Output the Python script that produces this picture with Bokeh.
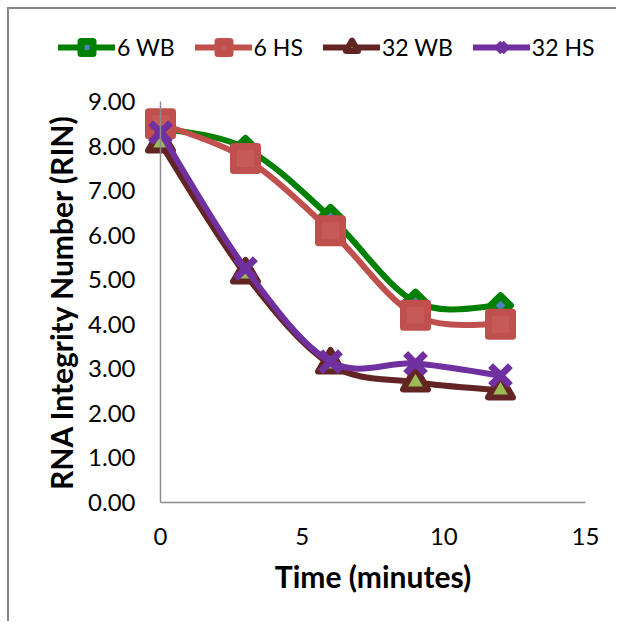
import numpy as np
from bokeh.plotting import figure
from bokeh.models import Legend, LegendItem, FixedTicker, PrintfTickFormatter, Range1d
from bokeh.embed import file_html
from bokeh.resources import INLINE

# ---- data ----
time_min = [0, 3, 6, 9, 12]
series_names = ["6 WB", "6 HS", "32 WB", "32 HS"]
wb6 = [8.40, 7.95, 6.40, 4.50, 4.42]
hs6 = [8.50, 7.72, 6.10, 4.20, 4.00]
wb32 = [8.06, 5.12, 3.10, 2.70, 2.52]
hs32 = [8.30, 5.25, 3.16, 3.12, 2.85]
x_ticks = [0, 5, 10, 15]
y_ticks = [0, 1, 2, 3, 4, 5, 6, 7, 8, 9]
x_lo, x_hi = 0, 15
y_lo, y_hi = 0, 9

FONT = "Lato"

# ---- layout geometry (pixels, relative to the figure's content box) ----
W, H = 609, 614
B = 1                                   # frame border on every side
ORIGIN_X, ORIGIN_Y = 151, 493           # where (0, 0) sits
RIGHT_X, TOP_Y = 576, 92                # where x=15 and y=9 sit
px_per_x = (RIGHT_X - ORIGIN_X) / (x_hi - x_lo)
px_per_y = (ORIGIN_Y - TOP_Y) / (y_hi - y_lo)
x_start = x_lo - (ORIGIN_X - B) / px_per_x
x_end = x_hi + ((W - B) - RIGHT_X) / px_per_x
y_start = y_lo - ((H - B) - ORIGIN_Y) / px_per_y
y_end = y_hi + (TOP_Y - B) / px_per_y

p = figure(width=W, height=H, x_range=Range1d(x_start, x_end), y_range=Range1d(y_start, y_end),
           output_backend="svg", toolbar_location=None,
           min_border_left=B, min_border_right=B, min_border_top=B, min_border_bottom=B)
p.styles = {"border-left": "2px solid #878787", "border-top": "2px solid #878787",
            "margin-left": "7px", "margin-top": "7px"}
p.outline_line_color = None
p.xgrid.visible = False
p.ygrid.visible = False
p.background_fill_color = "white"
p.border_fill_color = "white"

for ax in (p.xaxis[0], p.yaxis[0]):
    ax.axis_line_color = "#8C8C8C"
    ax.axis_line_width = 1.5
    ax.major_tick_line_color = None
    ax.minor_tick_line_color = None
    ax.major_label_text_font = FONT
    ax.major_label_text_font_size = "24px"
    ax.major_label_text_color = "black"
    ax.axis_label_text_font = FONT
    ax.axis_label_text_font_style = "bold"
    ax.axis_label_text_font_size = "30px"
    ax.axis_label_text_color = "black"

p.yaxis.fixed_location = x_lo
p.xaxis.fixed_location = y_lo
p.xaxis.bounds = (x_lo, x_hi)
p.yaxis.bounds = (y_lo, y_hi)
p.xaxis.ticker = FixedTicker(ticks=x_ticks)
p.yaxis.ticker = FixedTicker(ticks=y_ticks)
p.yaxis.formatter = PrintfTickFormatter(format="%.2f")
p.xaxis.axis_label = "Time (minutes)"
p.yaxis.axis_label = "RNA Integrity Number (RIN)"
p.xaxis.major_label_standoff = 19
p.yaxis.major_label_standoff = 19
p.xaxis.axis_label_standoff = 10
p.yaxis.axis_label_standoff = 6


def smooth_segments(xs, ys):
    """Excel-like smoothed line: cubic Bezier segments (Catmull-Rom control points)."""
    xs = np.asarray(xs, float)
    ys = np.asarray(ys, float)
    n = len(xs)
    x0, y0, x1, y1, cx0, cy0, cx1, cy1 = [], [], [], [], [], [], [], []
    for i in range(n - 1):
        pm = i - 1 if i > 0 else i
        pp = i + 2 if i + 2 < n else i + 1
        x0.append(xs[i]); y0.append(ys[i])
        x1.append(xs[i + 1]); y1.append(ys[i + 1])
        cx0.append(xs[i] + (xs[i + 1] - xs[pm]) / 6.0)
        cy0.append(ys[i] + (ys[i + 1] - ys[pm]) / 6.0)
        cx1.append(xs[i + 1] - (xs[pp] - xs[i]) / 6.0)
        cy1.append(ys[i + 1] - (ys[pp] - ys[i]) / 6.0)
    return dict(x0=x0, y0=y0, x1=x1, y1=y1, cx0=cx0, cy0=cy0, cx1=cx1, cy1=cy1)


styles = [
    dict(color="#008000", marker="square", angle=np.pi / 4, size=14, fill="#4F81BD", lw=7),
    dict(color="#C0504D", marker="square", angle=0, size=24, fill="#C65A57", lw=7),
    dict(color="#632523", marker="triangle", angle=0, size=25, fill="#9BBB59", lw=6),
    dict(color="#7030A0", marker="x", angle=0, size=28, fill="#7030A0", lw=7),
]
values = [wb6, hs6, wb32, hs32]

items = []
for name, vals, st in zip(series_names, values, styles):
    seg = smooth_segments(time_min, vals)
    r_line = p.bezier(x0=seg["x0"], y0=seg["y0"], x1=seg["x1"], y1=seg["y1"],
                      cx0=seg["cx0"], cy0=seg["cy0"], cx1=seg["cx1"], cy1=seg["cy1"],
                      line_color=st["color"], line_width=6, line_cap="round")
    r_pts = p.scatter(x=time_min, y=vals, marker=st["marker"], size=st["size"], angle=st["angle"],
                      fill_color=st["fill"], line_color=st["color"], line_width=st["lw"],
                      line_join="round")
    items.append(LegendItem(label=name, renderers=[r_line, r_pts]))

legend = Legend(items=items, orientation="horizontal", location=(48, 560),
                glyph_width=57, glyph_height=30, label_standoff=2, spacing=20,
                padding=0, margin=0, border_line_color=None, background_fill_alpha=0,
                label_text_font=FONT, label_text_font_size="23px", label_text_color="black")
p.add_layout(legend, "center")

open("out.html", "w").write(file_html(p, INLINE))
